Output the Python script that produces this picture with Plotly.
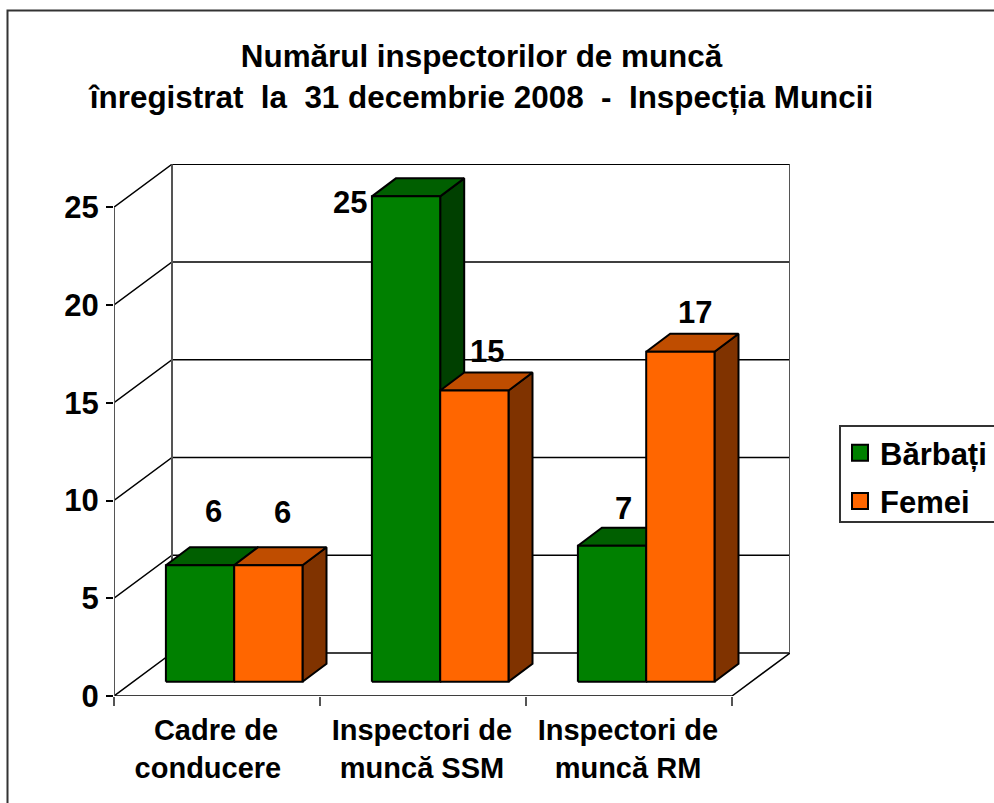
import plotly.graph_objects as go

# ---- data ----
categories = ["Cadre de<br>conducere\u00a0\u00a0", "Inspectori de<br>muncă SSM", "Inspectori de<br>muncă RM"]
barbati = [6, 25, 7]
femei = [6, 15, 17]
y_ticks = [0, 5, 10, 15, 20, 25]
title_text = "Numărul inspectorilor de muncă<br>înregistrat\u00a0\u00a0la\u00a0\u00a031 decembrie 2008\u00a0\u00a0-\u00a0\u00a0Inspecția Muncii"

# ---- 3D look ----
FONT = "Liberation Sans"
W, H = 994, 803
L, R, T, B = 114, 204, 164, 107
PXX = 206.0
PXY = 19.55
WALL_DX, WALL_DY = 58 / PXX, 43 / PXY
BAR_W = 68.3 / PXX
BAR_DX, BAR_DY = 24 / PXX, 18 / PXY
OFF_X, OFF_Y = 17.2 / PXX, 14.3 / PXY
BAR_SCALE = 0.993
BLACK = "#000000"
GRAY = "#555555"
styles = {
    "Bărbați": dict(front="#008000", top="#005f00", side="#004000"),
    "Femei": dict(front="#FF6600", top="#BF4D00", side="#803300"),
}
series = [("Bărbați", barbati), ("Femei", femei)]
label_shift = {"Bărbați": [(13, -54), (-56, 6), (11, -37)], "Femei": [(14, -53), (13, -39), (15, -39)]}

n = len(categories)
fig = go.Figure()


def line(xs, ys, color=BLACK, width=1.5):
    fig.add_trace(go.Scatter(x=xs, y=ys, mode="lines", line=dict(color=color, width=width),
                             showlegend=False, hoverinfo="skip", cliponaxis=False))


def poly(xs, ys, fill):
    fig.add_trace(go.Scatter(x=xs + xs[:1], y=ys + ys[:1], mode="lines", fill="toself", fillcolor=fill,
                             line=dict(color=BLACK, width=2), showlegend=False, hoverinfo="skip",
                             cliponaxis=False))


# walls and floor
for t in y_ticks:
    line([0, WALL_DX, n + WALL_DX], [t, t + WALL_DY, t + WALL_DY])
line([WALL_DX, n + WALL_DX], [y_ticks[-1] + WALL_DY] * 2)
line([0, n, n + WALL_DX], [0, 0, WALL_DY])
line([0, 0], [0, y_ticks[-1]], GRAY, 2)
line([WALL_DX, WALL_DX], [WALL_DY, y_ticks[-1] + WALL_DY], GRAY, 2)
line([n + WALL_DX, n + WALL_DX], [WALL_DY, y_ticks[-1] + WALL_DY], GRAY, 2)

# bars, back to front
annotations = []
for i in range(n):
    for s, (name, vals) in enumerate(series):
        st = styles[name]
        x0 = i + 0.5 + OFF_X - BAR_W + s * BAR_W
        x1 = x0 + BAR_W
        y0 = OFF_Y
        y1 = OFF_Y + vals[i] * BAR_SCALE
        poly([x1, x1 + BAR_DX, x1 + BAR_DX, x1], [y0, y0 + BAR_DY, y1 + BAR_DY, y1], st["side"])
        poly([x0, x0 + BAR_DX, x1 + BAR_DX, x1], [y1, y1 + BAR_DY, y1 + BAR_DY, y1], st["top"])
        poly([x0, x1, x1, x0], [y0, y0, y1, y1], st["front"])
        dx, dy = label_shift[name][i]
        annotations.append(dict(x=(x0 + x1) / 2, y=y1, xref="x", yref="y", text=str(vals[i]), showarrow=False,
                                xshift=dx, yshift=-dy, font=dict(family=FONT, size=31, weight=700, color=BLACK)))

# legend entries
for name, _ in series:
    fig.add_trace(go.Scatter(x=[None], y=[None], mode="markers", name=name, legendgroup=name,
                             marker=dict(symbol="square", size=16, color=styles[name]["front"],
                                         line=dict(color=BLACK, width=2))))

pw, ph = W - L - R, H - T - B
px = lambda v: (v - L) / pw
py = lambda v: 1 - (v - T) / ph
frame = dict(color="#333333", width=2)
fig.add_shape(type="rect", xref="paper", yref="paper", x0=px(7.5), x1=px(W + 20), y0=py(10.5), y1=py(H + 20),
              line=frame, layer="below")
fig.add_shape(type="rect", xref="paper", yref="paper", x0=px(840), x1=px(W + 20), y0=py(426), y1=py(522),
              line=frame, layer="below")

fig.update_layout(
    width=W, height=H, margin=dict(l=L, r=R, t=T, b=B, autoexpand=False), paper_bgcolor="white", plot_bgcolor="white",
    title=dict(text=title_text, x=481.5 / W, xanchor="center", xref="container",
               y=1 - 67 / H, yanchor="top", font=dict(family=FONT, size=31.4, weight=700, color=BLACK)),
    xaxis=dict(range=[0, n + WALL_DX], tickmode="array", tickvals=[i + 0.495 for i in range(n)], ticktext=categories,
               ticks="", showgrid=False, zeroline=False, showline=False, automargin=False, ticklabelstandoff=14,
               tickfont=dict(family=FONT, size=29, weight=700, color=BLACK),
               minor=dict(tickmode="array", tickvals=list(range(n + 1)), ticks="outside", ticklen=9, tickwidth=2,
                          tickcolor=GRAY, showgrid=False)),
    yaxis=dict(range=[0, ph / PXY], tickmode="array", tickvals=y_ticks, ticks="outside", ticklen=7, tickwidth=1.5,
               tickcolor=BLACK, showgrid=False, zeroline=False, showline=False, automargin=False, ticklabelstandoff=1,
               tickfont=dict(family=FONT, size=31, weight=700, color=BLACK)),
    legend=dict(x=px(840), y=py(426), xanchor="left", yanchor="top", bgcolor="rgba(0,0,0,0)", borderwidth=0,
                tracegroupgap=5, font=dict(family=FONT, size=31, weight=700, color=BLACK)),
    annotations=annotations, showlegend=True,
)

fig.write_html("out.html", post_script="document.body.style.margin='0';", config={"displayModeBar": False})
